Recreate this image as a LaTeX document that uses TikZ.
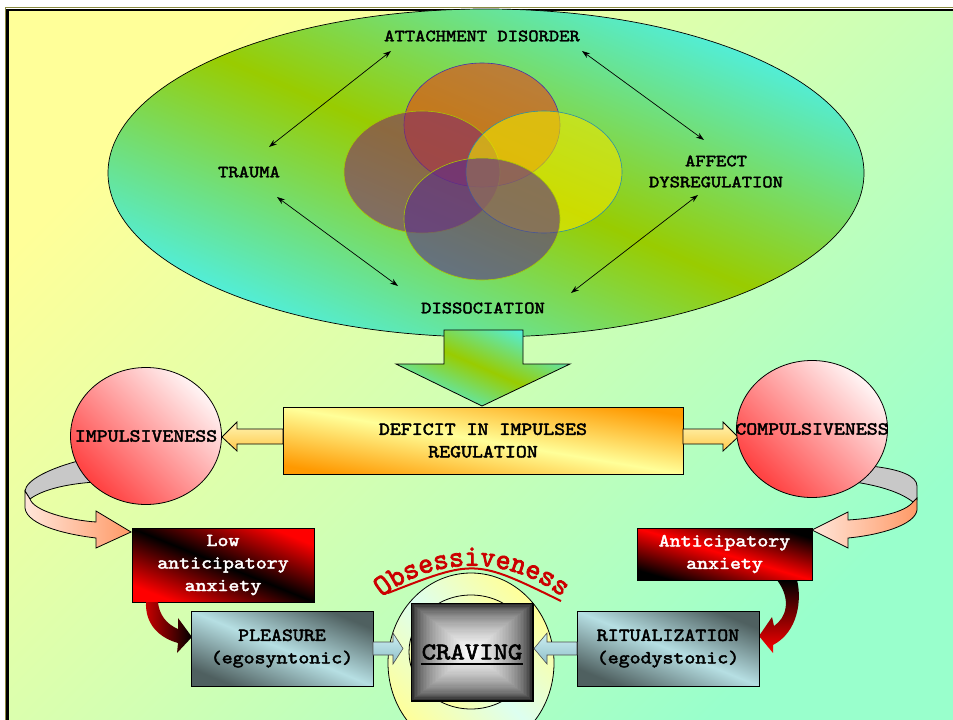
\documentclass[tikz,border=0pt]{standalone}
\usepackage{fontspec}
\newfontfamily\cour[FakeStretch=1.14, FakeBold=2.4]{lmmono10-regular.otf}
\newfontfamily\courobs[FakeStretch=0.95, FakeBold=2.6]{lmmono10-regular.otf}
\usetikzlibrary{arrows.meta,shapes.geometric,decorations.text,calc}
\definecolor{bgUL}{HTML}{FFFF99}
\definecolor{bgMid}{HTML}{D2FFB3}
\definecolor{bgLR}{HTML}{99FFCC}
\definecolor{ellC}{HTML}{4DF0E6}
\definecolor{ellG}{HTML}{99CC00}
\definecolor{vtop}{HTML}{E8401A}
\definecolor{vleft}{HTML}{84286B}
\definecolor{vright}{HTML}{F0E800}
\definecolor{vbot}{HTML}{5A2D8C}
\definecolor{vtopE}{HTML}{4433AA}
\definecolor{vleftE}{HTML}{A8C800}
\definecolor{vrightE}{HTML}{2A8FA8}
\definecolor{vbotE}{HTML}{A8C800}
\definecolor{orng}{HTML}{FF9900}
\definecolor{lyel}{HTML}{FFFF99}
\definecolor{pinkW}{HTML}{FFF5F5}
\definecolor{redC}{HTML}{FF4040}
\definecolor{grayband}{HTML}{C8C8C8}
\definecolor{peachL}{HTML}{FFE6DA}
\definecolor{peachD}{HTML}{FF9966}
\definecolor{bgDark}{HTML}{4F6060}
\definecolor{bgLight}{HTML}{B6DFE3}
\definecolor{obsred}{HTML}{CC0000}
\definecolor{ringY}{HTML}{FFFF99}
\definecolor{ringC}{HTML}{DDFFF0}
\definecolor{ablueT}{HTML}{CDEFF3}
\definecolor{ablueB}{HTML}{8FBFC8}
\definecolor{yarT}{HTML}{FFF6B5}
\definecolor{yarB}{HTML}{FFC848}
\definecolor{redarrow}{HTML}{CC0000}
\definecolor{olivel}{HTML}{8A8A40}
\tikzset{
  lbl/.style={font=\cour\fontsize{17.2}{21}\selectfont, inner sep=0pt, align=center},
  lbltwo/.style={font=\cour\fontsize{18.3}{22.5}\selectfont, inner sep=0pt, align=center},
  dbl/.style={{Stealth[length=8pt,width=5.5pt]}-{Stealth[length=8pt,width=5.5pt]}, line width=0.7pt},
  edge/.style={draw=black, line width=0.8pt},
  diagshade/.style n args={3}{top color=#1, bottom color=#1, middle color=#2, shading angle=#3},
  venn/.style={fill opacity=0.6, line width=0.6pt},
  bulb/.style={ellipse, edge, minimum width=151, minimum height=137, inner sep=0pt,
     top color=pinkW, bottom color=redC, shading angle=-45, lbltwo},
  bluebox/.style={rectangle, edge, minimum width=182, minimum height=75, inner sep=0pt, diagshade={bgDark}{bgLight}{-22.4}, lbltwo},
}
\begin{document}
\begin{tikzpicture}[x=1pt,y=-1pt]
\useasboundingbox (0,0) rectangle (953,720);
\fill[white] (0,0) rectangle (953,720);
\shade[top color=bgUL, bottom color=bgLR, middle color=bgMid, shading angle=45] (7.5,10) rectangle (953,720);
\draw[olivel, line width=0.8pt] (5.3,720) -- (5.3,7.8) -- (953,7.8);
\draw[black, line width=2.5pt] (7.5,720) -- (7.5,10) -- (953,10);

% big ellipse
\node[ellipse, edge, line width=0.7pt, minimum width=756, minimum height=328, inner sep=0pt, diagshade={ellC}{ellG}{-23.5}] (ell) at (486,173) {};

% venn circles
\filldraw[venn, fill=vtop, draw=vtopE] (482,125) ellipse [x radius=78, y radius=62];
\filldraw[venn, fill=vleft, draw=vleftE] (422,172) ellipse [x radius=78, y radius=61];
\filldraw[venn, fill=vright, draw=vrightE] (544,172) ellipse [x radius=78, y radius=61];
\filldraw[venn, fill=vbot, draw=vbotE] (482,219) ellipse [x radius=78, y radius=61];

% labels in ellipse
\node[lbl] (att) at (482,36) {ATTACHMENT DISORDER};
\node[lbl] (tra) at (249,172) {TRAUMA};
\node[lbl] (aff) at (716,171.5) {AFFECT\\DYSREGULATION};
\node[lbl] (dis) at (483,308) {DISSOCIATION};

\coordinate (a1s) at (391,51);  \coordinate (a1e) at (269,147);
\coordinate (a2s) at (582,51);  \coordinate (a2e) at (704,140);
\coordinate (a3s) at (277,197); \coordinate (a3e) at (398,286);
\coordinate (a4s) at (698,195); \coordinate (a4e) at (571,293);
\draw[dbl] (a1s) -- (a1e);
\draw[dbl] (a2s) -- (a2e);
\draw[dbl] (a3s) -- (a3e);
\draw[dbl] (a4s) -- (a4e);

% down block arrow
\shade[edge, diagshade={ellC}{ellG}{-23.6}] (444,330) -- (523,330) -- (523,364) -- (570,364) -- (482,406) -- (396,364) -- (444,364) -- cycle;

% deficit box
\node[rectangle, edge, minimum width=400, minimum height=67, inner sep=0pt, diagshade={orng}{lyel}{-9.5}, lbltwo] (def) at (483,440.5) {DEFICIT IN IMPULSES\\REGULATION};

% yellow arrows
\shade[edge, top color=yarT, bottom color=yarB] (283,429) -- (237,429) -- (237,422) -- (222,437) -- (237,451) -- (237,444) -- (283,444) -- cycle;
\shade[edge, top color=yarT, bottom color=yarB] (683,429) -- (723,429) -- (723,422) -- (738,437) -- (723,451) -- (723,444) -- (683,444) -- cycle;

% curved ribbon arrows (behind circles)
\filldraw[fill=grayband, edge] (82,460) .. controls (50,468) and (26,480) .. (25,491) -- (30,499) .. controls (42,490) and (65,484) .. (95,482) -- cycle;
\shade[edge, left color=peachL, right color=peachD] (25,491) -- (25,508) .. controls (27,526) and (70,535) .. (96,538) -- (96,548) -- (131,532) -- (96,511) -- (96,522) .. controls (68,520) and (34,511) .. (30,499) -- cycle;
\filldraw[fill=grayband, edge] (870,466) .. controls (900,469) and (917,476) .. (917,486) -- (917,500) -- (913,502) .. controls (900,492) and (880,486) .. (855,482) -- cycle;
\shade[edge, left color=peachL, right color=peachD] (917,498) -- (917,510) .. controls (915,525) and (880,535) .. (848,538) -- (848,548) -- (812,530) -- (848,512) -- (848,520) .. controls (880,518) and (905,512) .. (913,502) -- cycle;

% circles
\node[bulb] (imp) at (146,436) {\makebox[0pt]{IMPULSIVENESS}};
\node[bulb] (comp) at (812,429) {\makebox[0pt]{COMPULSIVENESS}};

% red boxes
\node[rectangle, edge, minimum width=182, minimum height=74, inner sep=0pt, diagshade={red}{black}{-22}, lbltwo, text=white] (low) at (223,565) {Low\\anticipatory\\anxiety};
\node[rectangle, edge, minimum width=175, minimum height=52, inner sep=0pt, diagshade={black}{red}{-16.5}, lbltwo, text=white] (antic) at (724.5,554) {Anticipatory\\anxiety};

% red curved arrows
\shade[left color=redarrow, right color=black] (146,602) .. controls (145,625) and (160,638) .. (178,643) -- (177,653) -- (192,637) -- (178,618) -- (178,629) .. controls (166,624) and (159,614) .. (158,602) -- cycle;
\shade[top color=black, bottom color=red] (777,580) -- (797,580) .. controls (802,600) and (798,632) .. (773,645) -- (773,653) -- (759,636) -- (772,617) -- (774,626) .. controls (786,618) and (792,600) .. (777,580) -- cycle;

% blue boxes
\node[bluebox] (ple) at (282,648.5) {PLEASURE\\(egosyntonic)};
\node[bluebox] (rit) at (668,648.5) {RITUALIZATION\\(egodystonic)};

% craving group
\node[ellipse, edge, minimum width=166, minimum height=180, inner sep=0pt, diagshade={ringY}{ringC}{-47}] (ring) at (471,663) {};
\node[ellipse, edge, minimum width=124, minimum height=114, inner sep=0pt, diagshade={ringY}{ringC}{-45}] (ringin) at (471,652) {};
\foreach \i in {0,...,40}{
  \pgfmathsetmacro\p{100*(\i/40)^0.45}
  \pgfmathsetmacro\s{1-\i/41}
  \fill[white!\p!black] (472-61*\s, 652-49*\s) rectangle (472+61*\s, 652+49*\s);
}
\node[rectangle, edge, minimum width=122, minimum height=98, inner sep=0pt, font=\cour\fontsize{24}{28}\selectfont] (crav) at (472,652) {CRAVING};
\draw[line width=1.8pt] ($(crav.center)+(-51,12)$) -- ($(crav.center)+(51,12)$);

% small blue arrows
\shade[draw=black!70, line width=0.6pt, top color=ablueT, bottom color=ablueB] (373,642) -- (393,642) -- (393,633) -- (403,648.5) -- (393,664) -- (393,655) -- (373,655) -- cycle;
\shade[draw=black!70, line width=0.6pt, top color=ablueT, bottom color=ablueB] (577,642) -- (547,642) -- (547,633) -- (534,648.5) -- (547,664) -- (547,655) -- (577,655) -- cycle;

% obsessiveness
\path[decorate, decoration={text along path, text align=center,
   text={|\courobs\fontsize{30}{30}\selectfont\color{obsred}|Obsessiveness}}]
   (379,599.5) .. controls (432.5,554.5) and (511.5,554.5) .. (565,599.5);
\draw[obsred, line width=2pt] (388,593) .. controls (475,559) .. (561,601);
\end{tikzpicture}
\end{document}
